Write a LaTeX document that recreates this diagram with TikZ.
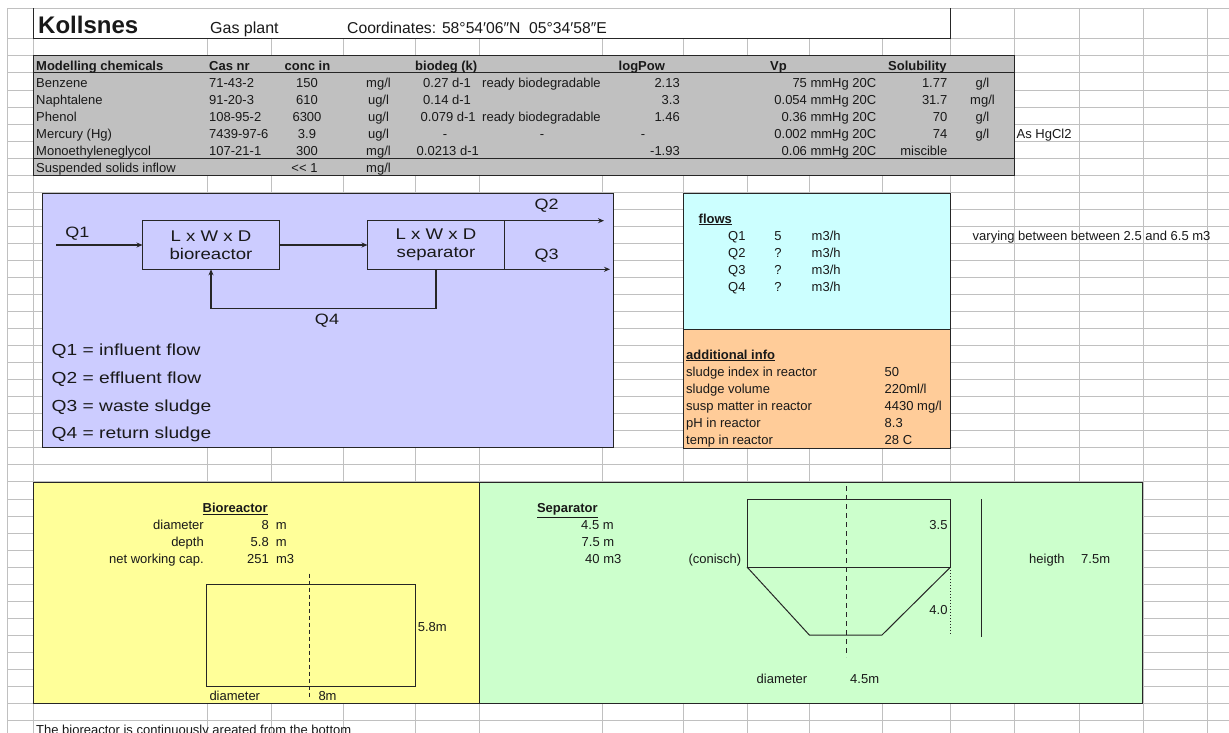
\documentclass[tikz,border=0pt]{standalone}
\usepackage{fontspec}
\setmainfont{Liberation Sans}
\newfontfamily\widesans[FakeStretch=1.2]{Liberation Sans}
\usetikzlibrary{arrows.meta}
\definecolor{tablegray}{HTML}{C0C0C0}
\definecolor{panelpurple}{HTML}{CCCCFF}
\definecolor{panelcyan}{HTML}{CCFFFF}
\definecolor{panelorange}{HTML}{FFCC99}
\definecolor{panelyellow}{HTML}{FFFF99}
\definecolor{panelgreen}{HTML}{CCFFCC}

\begin{document}
\begin{tikzpicture}[x=1pt, y=-1pt,
    every node/.style={inner sep=0pt, text=black!90, font=\fontsize{13}{15}\selectfont},
    lcell/.style={anchor=base west},
    rcell/.style={anchor=base east},
    ccell/.style={anchor=base},
    legendtext/.style={anchor=base west, font=\widesans\fontsize{16}{18}\selectfont},
    flowlabel/.style={font=\widesans\fontsize{15}{18}\selectfont},
    flowbox/.style={draw=black!85, line width=1.3pt, outer sep=0pt, minimum width=137pt, minimum height=48.6pt, align=center, font=\widesans\fontsize{15.5}{18.5}\selectfont},
    flowarrow/.style={draw=black!85, line width=1.3pt, -{Stealth[length=6pt,width=5pt]}},
    gridline/.style={draw=tablegray, line width=1pt},
    panel/.style={draw=black!85, line width=1pt},
    outline/.style={draw=black!85, line width=1pt}]
  \useasboundingbox (0,0) rectangle (1229,733);
  \clip (0,0) rectangle (1229,733);
  \fill[white] (0,0) rectangle (1229,733);

  \draw[gridline] (7,8.5) -- (7,733) (33,8.5) -- (33,733) (207,8.5) -- (207,733) (271,8.5) -- (271,733)
    (343,8.5) -- (343,733) (415,8.5) -- (415,733) (479,8.5) -- (479,733) (602,8.5) -- (602,733)
    (683,8.5) -- (683,733) (747,8.5) -- (747,733) (809,8.5) -- (809,733) (882,8.5) -- (882,733)
    (950,8.5) -- (950,733) (1014,8.5) -- (1014,733) (1079,8.5) -- (1079,733) (1143,8.5) -- (1143,733)
    (1207,8.5) -- (1207,733);
  \draw[gridline] (7,8.5) -- (1229,8.5) (7,39) -- (1229,39) (7,56) -- (1229,56) (7,73) -- (1229,73)
    (7,90.5) -- (1229,90.5) (7,107.5) -- (1229,107.5) (7,124.5) -- (1229,124.5) (7,141.5) -- (1229,141.5)
    (7,158.5) -- (1229,158.5) (7,175.7) -- (1229,175.7) (7,192.7) -- (1229,192.7) (7,209.7) -- (1229,209.7)
    (7,226.7) -- (1229,226.7) (7,243.7) -- (1229,243.7) (7,260.7) -- (1229,260.7) (7,277.7) -- (1229,277.7)
    (7,294.7) -- (1229,294.7) (7,311.7) -- (1229,311.7) (7,328.7) -- (1229,328.7) (7,345.7) -- (1229,345.7)
    (7,362.7) -- (1229,362.7) (7,379.7) -- (1229,379.7) (7,396.7) -- (1229,396.7) (7,413.7) -- (1229,413.7)
    (7,430.7) -- (1229,430.7) (7,447.7) -- (1229,447.7) (7,464.7) -- (1229,464.7) (7,481.7) -- (1229,481.7)
    (7,499.7) -- (1229,499.7) (7,516.7) -- (1229,516.7) (7,533.7) -- (1229,533.7) (7,550.7) -- (1229,550.7)
    (7,567.7) -- (1229,567.7) (7,584.7) -- (1229,584.7) (7,601.7) -- (1229,601.7) (7,618.7) -- (1229,618.7)
    (7,635.7) -- (1229,635.7) (7,652.7) -- (1229,652.7) (7,669.7) -- (1229,669.7) (7,686.7) -- (1229,686.7)
    (7,703.7) -- (1229,703.7) (7,720.7) -- (1229,720.7);

  \fill[white] (33,9) rectangle (950,39);
  \draw[panel] (33,8.5) -- (33,39) -- (950,39) -- (950,8.5);
  \node[lcell, font=\bfseries\fontsize{24}{26}\selectfont] (kollsnes) at (38,33.5) {Kollsnes};
  \node[lcell, font=\fontsize{16}{18}\selectfont] (gasplant) at (210,33.7) {Gas plant};
  \node[lcell, font=\fontsize{15.7}{18}\selectfont] (coords) at (347,33.7) {Coordinates: 58°54′06″N\ \ 05°34′58″E};

  \draw[panel, fill=tablegray] (33,56) rectangle (1014,175.7);
  \draw[panel] (33,73) -- (1014,73) (33,158.5) -- (1014,158.5);
  \node[lcell, font=\bfseries\fontsize{13}{15}\selectfont] (hname) at (36,70.2) {Modelling chemicals};
  \node[lcell, font=\bfseries\fontsize{13}{15}\selectfont] (hcas) at (209,70.2) {Cas nr};
  \node[lcell, font=\bfseries\fontsize{13}{15}\selectfont] (hconc) at (284.5,70.2) {conc in};
  \node[lcell, font=\bfseries\fontsize{13}{15}\selectfont] (hbiodeg) at (415,70.2) {biodeg (k)};
  \node[lcell, font=\bfseries\fontsize{13}{15}\selectfont] (hlogpow) at (618.5,70.2) {logPow};
  \node[lcell, font=\bfseries\fontsize{13}{15}\selectfont] (hvp) at (770,70.2) {Vp};
  \node[lcell, font=\bfseries\fontsize{13}{15}\selectfont] (hsol) at (888,70.2) {Solubility};

  \node[lcell] (benzene) at (36,87.7) {Benzene};
  \node[lcell] (benzenecas) at (209,87.7) {71-43-2};
  \node[ccell] (benzeneconc) at (307,87.7) {150};
  \node[ccell] (benzeneunit) at (378.5,87.7) {mg/l};
  \node[lcell] (benzenek) at (423,87.7) {0.27 d-1};
  \node[lcell] (benzeneready) at (482,87.7) {ready biodegradable};
  \node[rcell] (benzenepow) at (680,87.7) {2.13};
  \node[rcell] (benzenevp) at (876.5,87.7) {75 mmHg 20C};
  \node[rcell] (benzenesol) at (947.5,87.7) {1.77};
  \node[ccell] (benzenesolunit) at (982.5,87.7) {g/l};

  \node[lcell] (naphtalene) at (36,104.7) {Naphtalene};
  \node[lcell] (naphtalenecas) at (209,104.7) {91-20-3};
  \node[ccell] (naphtaleneconc) at (307,104.7) {610};
  \node[ccell] (naphtaleneunit) at (378.5,104.7) {ug/l};
  \node[lcell] (naphtalenek) at (423,104.7) {0.14 d-1};
  \node[rcell] (naphtalenepow) at (680,104.7) {3.3};
  \node[rcell] (naphtalenevp) at (876.5,104.7) {0.054 mmHg 20C};
  \node[rcell] (naphtalenesol) at (947.5,104.7) {31.7};
  \node[ccell] (naphtalenesolunit) at (982.5,104.7) {mg/l};

  \node[lcell] (phenol) at (36,121.7) {Phenol};
  \node[lcell] (phenolcas) at (209,121.7) {108-95-2};
  \node[ccell] (phenolconc) at (307,121.7) {6300};
  \node[ccell] (phenolunit) at (378.5,121.7) {ug/l};
  \node[lcell] (phenolk) at (420.5,121.7) {0.079 d-1};
  \node[lcell] (phenolready) at (482,121.7) {ready biodegradable};
  \node[rcell] (phenolpow) at (680,121.7) {1.46};
  \node[rcell] (phenolvp) at (876.5,121.7) {0.36 mmHg 20C};
  \node[rcell] (phenolsol) at (947.5,121.7) {70};
  \node[ccell] (phenolsolunit) at (982.5,121.7) {g/l};

  \node[lcell] (mercury) at (36,138.7) {Mercury (Hg)};
  \node[lcell] (mercurycas) at (209,138.7) {7439-97-6};
  \node[ccell] (mercuryconc) at (307,138.7) {3.9};
  \node[ccell] (mercuryunit) at (378.5,138.7) {ug/l};
  \node[ccell] (mercuryk) at (445,138.7) {-};
  \node[ccell] (mercuryready) at (542,138.7) {-};
  \node[ccell] (mercurypow) at (643,138.7) {-};
  \node[rcell] (mercuryvp) at (876.5,138.7) {0.002 mmHg 20C};
  \node[rcell] (mercurysol) at (947.5,138.7) {74};
  \node[ccell] (mercurysolunit) at (982.5,138.7) {g/l};
  \node[lcell] (mercurynote) at (1016.5,138.7) {As HgCl2};

  \node[lcell] (glycol) at (36,155.7) {Monoethyleneglycol};
  \node[lcell] (glycolcas) at (209,155.7) {107-21-1};
  \node[ccell] (glycolconc) at (307,155.7) {300};
  \node[ccell] (glycolunit) at (378.5,155.7) {mg/l};
  \node[lcell] (glycolk) at (416.5,155.7) {0.0213 d-1};
  \node[rcell] (glycolpow) at (680,155.7) {-1.93};
  \node[rcell] (glycolvp) at (876.5,155.7) {0.06 mmHg 20C};
  \node[rcell] (glycolsol) at (947.5,155.7) {miscible};

  \node[lcell] (solids) at (36,172) {Suspended solids inflow};
  \node[ccell] (solidsconc) at (304.5,172) {<{}< 1};
  \node[ccell] (solidsunit) at (378.5,172) {mg/l};

  \draw[panel, fill=panelpurple] (42,193) rectangle (613,447);
  \coordinate (q1start) at (56,245);
  \coordinate (q2end) at (604,221);
  \coordinate (q3end) at (610,269.5);
  \node[flowbox] (bio) at (211,245) {L x W x D\\bioreactor};
  \node[flowbox] (sep) at (436,245) {L x W x D\\separator};
  \draw[flowarrow] (q1start) -- (bio);
  \draw[flowarrow] (bio) -- (sep);
  \draw[flowarrow] (sep.north east) -- (sep.north east -| q2end);
  \draw[flowarrow] (sep.south east) -- (sep.south east -| q3end);
  \draw[flowarrow] (sep.south) -- ++(0,39.4) -| (bio.south);
  \node[flowlabel] (q1) at (77.5,234) {Q1};
  \node[flowlabel] (q2) at (546.5,206) {Q2};
  \node[flowlabel] (q3) at (546.5,256) {Q3};
  \node[flowlabel] (q4) at (327,321) {Q4};
  \node[legendtext] (legendone) at (51.5,355.5) {Q1 = influent flow};
  \node[legendtext] (legendtwo) at (51.5,383.5) {Q2 = effluent flow};
  \node[legendtext] (legendthree) at (51.5,411) {Q3 = waste sludge};
  \node[legendtext] (legendfour) at (51.5,438.5) {Q4 = return sludge};

  \draw[panel, fill=panelcyan] (683,193) rectangle (950,329);
  \draw[panel, fill=panelorange] (683,329) rectangle (950,448);
  \node[lcell] (flows) at (698.5,223) {\underline{\textbf{flows}}};
  \node[lcell] (flowqone) at (728,240) {Q1};
  \node[ccell] (flowqonev) at (778,240) {5};
  \node[lcell] (flowqoneu) at (811.5,240) {m3/h};
  \node[lcell] (flowqtwo) at (728,257) {Q2};
  \node[ccell] (flowqtwov) at (778,257) {?};
  \node[lcell] (flowqtwou) at (811.5,257) {m3/h};
  \node[lcell] (flowqthree) at (728,274) {Q3};
  \node[ccell] (flowqthreev) at (778,274) {?};
  \node[lcell] (flowqthreeu) at (811.5,274) {m3/h};
  \node[lcell] (flowqfour) at (728,291) {Q4};
  \node[ccell] (flowqfourv) at (778,291) {?};
  \node[lcell] (flowqfouru) at (811.5,291) {m3/h};
  \node[lcell] (varying) at (972.5,240) {varying between between 2.5 and 6.5 m3};

  \node[lcell] (addinfo) at (686,359) {\underline{\textbf{additional info}}};
  \node[lcell] (sludgeindex) at (686,376) {sludge index in reactor};
  \node[lcell] (sludgeindexv) at (884.5,376) {50};
  \node[lcell] (sludgevol) at (686,393) {sludge volume};
  \node[lcell] (sludgevolv) at (884.5,393) {220ml/l};
  \node[lcell] (suspmatter) at (686,410) {susp matter in reactor};
  \node[lcell] (suspmatterv) at (884.5,410) {4430 mg/l};
  \node[lcell] (phreactor) at (686,427) {pH in reactor};
  \node[lcell] (phreactorv) at (884.5,427) {8.3};
  \node[lcell] (tempreactor) at (686,444) {temp in reactor};
  \node[lcell] (tempreactorv) at (884.5,444) {28 C};

  \draw[panel, fill=panelyellow] (33,482.7) rectangle (479,703.7);
  \draw[panel, fill=panelgreen] (479,482.7) rectangle (1142.3,703.7);

  \node[lcell] (biotitle) at (202.5,512.7) {\underline{\textbf{Bioreactor}}};
  \node[rcell] (biodiam) at (204,529.7) {diameter};
  \node[lcell] (biodiamv) at (261.3,529.7) {8\ \ m};
  \node[rcell] (biodepth) at (204,546.7) {depth};
  \node[lcell] (biodepthv) at (250.5,546.7) {5.8\ \ m};
  \node[rcell] (biocap) at (204,563.7) {net working cap.};
  \node[lcell] (biocapv) at (247,563.7) {251\ \ m3};
  \draw[outline] (206.5,584) rectangle (415,686.3);
  \draw[outline, dash pattern=on 4pt off 3pt] (309.7,573.7) -- (309.7,699.3);
  \node[lcell] (biodepthlabel) at (417.7,631.7) {5.8m};
  \node[lcell] (biodiamlabel) at (209.3,700) {diameter};
  \node[lcell] (biodiamlabelv) at (318.3,700) {8m};

  \node[lcell] (septitle) at (536.8,512.7) {\underline{\textbf{Separator}}};
  \node[lcell] (sepdiam) at (581,529.7) {4.5 m};
  \node[lcell] (sepheight) at (581.5,546.7) {7.5 m};
  \node[lcell] (sepvol) at (585,563.7) {40 m3};
  \node[lcell] (conisch) at (688.3,563.7) {(conisch)};
  \draw[outline] (747,499.3) rectangle (950.6,567);
  \draw[outline] (747,567) -- (809.3,635) -- (882,635) -- (950.6,567);
  \draw[outline, dash pattern=on 5pt off 4pt] (846,486) -- (846,657);
  \draw[outline, dotted] (950.6,567) -- (950.6,635);
  \draw[outline] (981.6,499) -- (981.6,637);
  \node[rcell] (sepupper) at (947.7,529.7) {3.5};
  \node[rcell] (seplower) at (947.7,614.7) {4.0};
  \node[lcell] (heigth) at (1029,563.7) {heigth};
  \node[lcell] (heigthv) at (1081,563.7) {7.5m};
  \node[lcell] (sepdiamlabel) at (756.5,683.2) {diameter};
  \node[lcell] (sepdiamlabelv) at (850,683.2) {4.5m};

  \node[lcell] (aeration) at (36,734.7) {The bioreactor is continuously areated from the bottom};
\end{tikzpicture}
\end{document}
